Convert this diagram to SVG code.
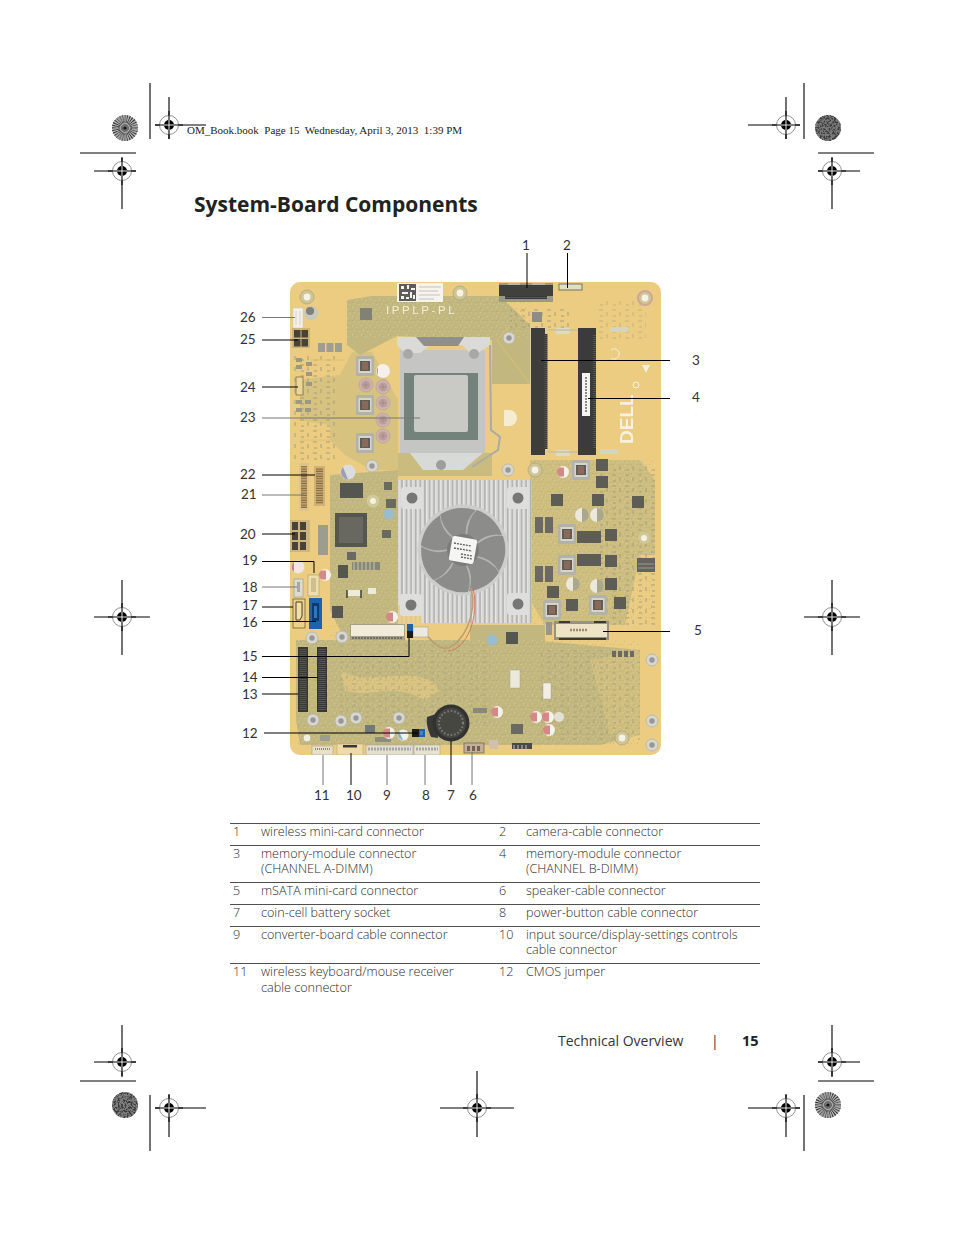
<svg xmlns="http://www.w3.org/2000/svg" width="954" height="1235" viewBox="0 0 954 1235">
<style>
.t{font-family:"Open Sans","Lato",sans-serif;font-size:12.6px;font-weight:300;fill:#2c2c2c}
.n{font-family:"Lato","Open Sans",sans-serif;font-size:13.5px;font-weight:400;fill:#333}
.c{stroke:#000;stroke-width:1;fill:none}
.c2{stroke:#777;stroke-width:1;fill:none}
.m{stroke:#000;stroke-width:1.1}
.ol{fill:#b9ad6c}
.dk{fill:#56564e}
.ch{fill:#3e3e38}
.gr{fill:#8f8f80}
</style>
<defs>
<g id="cross"><circle r="9.5" fill="#fff" stroke="#777" stroke-width=".8"/><path d="M-14 0H14M0-14V14" stroke="#000" stroke-width="1.100"/><circle r="5" fill="#000"/><path d="M-5 0H5M0-5V5" stroke="#fff" stroke-width=".9"/></g>
<g id="burst"><circle r="13" fill="#a8a8a8"/><circle r="6.5" fill="none" stroke="#333" stroke-width="13" stroke-dasharray=".7 .7"/><circle r="10" fill="none" stroke="#ddd" stroke-width="6" stroke-dasharray=".6 1.4" opacity=".7"/><circle r="4.5" fill="none" stroke="#ddd" stroke-width="1" opacity=".6"/><circle r="1.5" fill="#111"/></g>
<filter id="noise" x="0" y="0" width="1" height="1" color-interpolation-filters="sRGB"><feTurbulence type="fractalNoise" baseFrequency=".55" numOctaves="2" seed="4"/><feColorMatrix values="0 0 0 0 .22 0 0 0 0 .22 0 0 0 0 .22 5 0 0 0 -2.2"/><feComposite in2="SourceGraphic" operator="in" result="d"/><feMerge><feMergeNode in="SourceGraphic"/><feMergeNode in="d"/></feMerge></filter>
<filter id="soft" x="0" y="0" width="1" height="1"><feGaussianBlur stdDeviation=".45"/></filter>
<pattern id="fins" width="4.6" height="10" patternUnits="userSpaceOnUse"><rect width="4.6" height="10" fill="#d4d4d2"/><rect x="1" width="1.5" height="10" fill="#a2a2a0"/><rect x="3.1" width=".6" height="10" fill="#efefee"/></pattern>
<pattern id="speck" width="9" height="9" patternUnits="userSpaceOnUse"><path d="M1 1h1.500v1.500H1zM5 3h1.500v1H5zM3 6h1v1.500H3zM7 7h1.500v1H7z" fill="#d8cf9a" opacity=".75"/><path d="M3 2h1v1H3zM7 5h1v1H7zM1 5h1v1H1z" fill="#8f8648" opacity=".6"/></pattern>
<pattern id="smt" width="13" height="11" patternUnits="userSpaceOnUse"><path d="M1 1h4v2H1zM8 4h2v4H8zM2 7h3v2H2z" fill="#8e8a68" opacity=".7"/></pattern>
<pattern id="pins" width="1.800" height="2.400" patternUnits="userSpaceOnUse"><rect width="1.800" height="2.400" fill="#c9a662"/><rect y=".5" width="1.800" height="1.200" fill="#6d4f22"/></pattern>
<pattern id="dpins" width="3" height="2" patternUnits="userSpaceOnUse"><rect width="3" height="2" fill="#1c1c1c"/><rect y="1" width="3" height=".6" fill="#555"/></pattern>
<g id="hole"><circle r="7" fill="#c9bd88" stroke="#a49a66" stroke-width=".8"/><circle r="3.400" fill="#f4f1e4"/></g>
<g id="ghole"><circle r="6" fill="#d2d2ca" stroke="#a8a89c" stroke-width=".8"/><circle r="2.700" fill="#888"/></g>
<g id="cap"><circle r="7" fill="#cca6a2" stroke="#a79a8a" stroke-width=".8"/><circle r="4.600" fill="#b3918e"/><path d="M-3 0H3M0-3V3" stroke="#8d7674" stroke-width=".7"/></g>
<g id="rcap"><circle r="6" fill="#f2f0ea"/><path d="M-4-4.500A6 6 0 0 0-4 4.500L1 4.500V-4.500z" fill="#c0504a" opacity=".75"/></g>
<g id="wcap"><circle r="7" fill="#e9e6d8"/><path d="M0-7A7 7 0 0 1 0 7z" fill="#9f9a78"/></g>
<g id="ind"><rect x="-9" y="-10" width="18" height="20" rx="1.500" fill="#a7a79a"/><rect x="-6.500" y="-7" width="13" height="14" fill="#cfcfc4"/><rect x="-5" y="-5" width="10" height="10" fill="#47433d"/><path d="M-3-3H3M-3-1H3M-3 1H3M-3 3H3" stroke="#b5684a" stroke-width=".9"/></g>
<g id="sq"><rect x="-6" y="-6" width="12" height="12" fill="#46463f"/></g>
<path id="blade" d="M14-6Q28-16 40-14A42 42 0 0 1 36 21Q28 8 14 6z" fill="#7b7b79"/>
</defs>

<g id="page-marks">
<path class="m" d="M150 83V139M155 125H206M169 97V139M80 153H136M94 171H136M122 158V209M804 83V139M748 125H800M786 97V139M818 153H874M818 171H860M832 158V209M94 617H150M122 580V655M804 617H860M832 580V655M94 1062H136M122 1025V1077M80 1081H136M150 1095V1151M155 1108H206M169 1095V1137M440 1108H514M477 1071V1137M748 1108H800M786 1095V1137M804 1095V1151M818 1081H874M818 1062H860M832 1025V1077" fill="none"/>
<use href="#burst" x="125" y="128"/>
<use href="#burst" x="828" y="1105"/>
<circle cx="828" cy="128" r="13" fill="#7a7a7a" filter="url(#noise)"/>
<circle cx="125" cy="1105" r="13" fill="#808080" filter="url(#noise)"/>
<use href="#cross" x="169" y="125"/><use href="#cross" x="122" y="171"/><use href="#cross" x="786" y="125"/><use href="#cross" x="832" y="171"/><use href="#cross" x="122" y="617"/><use href="#cross" x="832" y="617"/><use href="#cross" x="122" y="1062"/><use href="#cross" x="169" y="1108"/><use href="#cross" x="477" y="1108"/><use href="#cross" x="786" y="1108"/><use href="#cross" x="832" y="1062"/>
<text x="187" y="134" xml:space="preserve" style="white-space:pre" font-family="Liberation Serif,serif" font-size="11" fill="#222">OM_Book.book  Page 15  Wednesday, April 3, 2013  1:39 PM</text>
</g>

<text id="title" x="194" y="212" font-family="Open Sans,Lato,sans-serif" font-weight="700" font-size="21" fill="#222">System-Board Components</text>

<g id="board" filter="url(#soft)">
<rect x="290" y="282" width="371" height="473" rx="10" fill="#e8c56f"/>
<path class="ol" d="M347 300L372 296H500L530 325V384H492V340L397 336L360 355L347 345z"/>
<path class="ol" d="M352 352H372L398 400V470H372L345 455L330 440V425L300 420V380L340 375z" opacity=".5"/>
<path class="ol" d="M398 453H492V476H398z" opacity=".8"/>
<path class="ol" d="M330 475L398 470V640L345 640L330 610z"/>
<path class="ol" d="M296 640H530L640 650V735L600 745H300L296 720z"/>
<path class="ol" d="M470 625H545V655H470z"/>
<path class="ol" d="M530 460H640L655 480V555H640L625 625H545L530 600z" opacity=".72"/>
<path fill="#e8c56f" d="M340 670C370 690 420 660 440 690L425 700C390 680 370 700 345 690z" opacity=".6"/>
<path fill="#e8c56f" d="M590 660L640 650V740L610 735z" opacity=".35"/>
<rect x="296" y="640" width="344" height="105" fill="url(#speck)" opacity=".6"/>
<rect x="530" y="460" width="125" height="165" fill="url(#speck)" opacity=".6"/>
<rect x="347" y="298" width="183" height="40" fill="url(#speck)" opacity=".6"/>
<rect x="330" y="475" width="68" height="165" fill="url(#speck)" opacity=".5"/>
<rect x="293" y="355" width="45" height="105" fill="url(#smt)" opacity=".6"/>
<rect x="600" y="465" width="55" height="160" fill="url(#smt)" opacity=".6"/>
<rect x="540" y="650" width="100" height="90" fill="url(#smt)" opacity=".5"/>
<rect x="340" y="645" width="150" height="80" fill="url(#smt)" opacity=".45"/>
<rect x="596" y="300" width="50" height="40" fill="url(#smt)" opacity=".35"/>
<rect x="510" y="306" width="60" height="22" fill="url(#smt)" opacity=".6"/>
<path fill="none" stroke="#d8b85f" stroke-width="1" d="M300 440H345M300 400H340M310 360H345M497 340L530 384M510 325L497 340"/>
<use href="#hole" x="307" y="297"/><use href="#hole" x="460" y="293"/><use href="#hole" x="645" y="298"/>
<circle cx="645" cy="298" r="7" fill="none" stroke="#c89a88" stroke-width="2"/>
<g id="qr"><rect x="397" y="283" width="46" height="19" fill="#f5f3e8"/><rect x="399" y="284" width="17" height="17" fill="#444"/><path d="M401 286h3v3h-3zM407 285h2v4h-2zM411 288h4v2h-4zM402 292h6v2h-6zM410 292h2v6h-2zM401 296h3v3h-3zM406 297h3v2h-3zM413 295h2v4h-2z" fill="#f5f3e8"/><path d="M419 287H441M419 291H438M419 295H440M419 299H434" stroke="#aaa" stroke-width=".8"/></g>
<text x="386" y="314" font-family="Liberation Sans,sans-serif" font-size="11.500" letter-spacing="2.600" fill="#f1eccf">IPPLP-PL</text>
<g id="c26"><rect x="293" y="308" width="10" height="20" fill="#f1efe8" stroke="#c8c2a8" stroke-width=".6"/><path d="M296 311V325M300 311V325" stroke="#cfcbb8"/></g>
<circle cx="311" cy="313" r="7" fill="#bfc0b5"/><circle cx="310" cy="311" r="4" fill="#6d6e63"/>
<g id="c25"><rect x="292" y="328" width="18" height="20" fill="#c6a864"/><rect x="294" y="330" width="6.500" height="7.500" fill="#2e281c"/><rect x="301.500" y="330" width="6.500" height="7.500" fill="#2e281c"/><rect x="294" y="339" width="6.500" height="7.500" fill="#2e281c"/><rect x="301.500" y="339" width="6.500" height="7.500" fill="#2e281c"/></g>
<rect x="318" y="343" width="7" height="9" class="gr"/><rect x="326.500" y="343" width="7" height="9" class="gr"/><rect x="335" y="343" width="7" height="9" class="gr"/>
<g id="c24"><rect x="296" y="377" width="7" height="18" fill="#eacf8a" stroke="#6a5a30" stroke-width=".8"/></g>
<path d="M296 358h6v4h-6zM296 365h6v4h-6zM306 362h6v4h-6zM306 372h6v4h-6zM306 382h6v4h-6zM296 400h6v4h-6zM305 400h6v4h-6zM296 408h6v4h-6zM305 408h6v4h-6z" fill="#8a8a72"/>
<use href="#ind" x="365" y="366"/><use href="#ind" x="365" y="405"/><use href="#ind" x="365" y="443"/>
<circle cx="383" cy="371" r="7" fill="#f3eeea"/><path d="M378 367A7 7 0 0 0 378 375z" fill="#c9888a"/>
<use href="#cap" x="383" y="387"/><use href="#cap" x="383" y="403"/><use href="#cap" x="383" y="420"/><use href="#cap" x="383" y="436"/><use href="#cap" x="366" y="385"/>
<circle cx="348" cy="472" r="7.500" fill="#d7d6d8"/><path d="M343 467A7.500 7.500 0 0 0 348 479.500z" fill="#8d8fb0"/>
<circle cx="373" cy="501" r="6.500" fill="#ccc18a"/><circle cx="373" cy="501" r="3" fill="#f3f0e2"/>
<circle cx="389" cy="514" r="5.500" fill="#8ab4c8"/>
<rect x="340" y="483" width="23" height="15" class="ch"/><rect x="384" y="482" width="8" height="8" class="dk"/><rect x="386" y="499" width="10" height="9" class="dk"/>
<use href="#ghole" x="372" y="466"/><use href="#ghole" x="509" y="338"/><use href="#ghole" x="508" y="470"/>
<rect x="360" y="308" width="12" height="12" fill="#6f6f60"/><rect x="532" y="312" width="10" height="10" fill="#7d7d70"/>
<g id="socket">
<rect x="400" y="350" width="85" height="103" fill="#bdbebc"/>
<path d="M397 337H490V345L478 353H470L462 345H430L420 353H405L397 345z" fill="#d5d6d3"/>
<path d="M416 337H464L458 346H424z" fill="#7f807c"/>
<circle cx="408" cy="354" r="5" fill="#9c9d99"/><circle cx="474" cy="354" r="5" fill="#9c9d99"/>
<path d="M404 373H478V440H404z" fill="#5f7169"/>
<rect x="414" y="375" width="54" height="57" rx="2" fill="#c1c1bd"/>
<path d="M410 453H483L463 470H423z" fill="#d3d5d3"/>
<circle cx="441" cy="465" r="5" fill="#8f908c"/>
<path d="M490 345L491 430L500 437L498 450L472 467" stroke="#9d9f9b" stroke-width="2" fill="none"/>
</g>
<path d="M509 410a5 5 0 0 1 0 16h-5v-16z" fill="#f3ebcc"/>
<g id="c1"><rect x="499" y="283" width="54" height="19" fill="#8d8a70"/><rect x="499" y="285" width="54" height="11" fill="#23231f"/><rect x="505" y="296" width="42" height="3" fill="url(#dpins)"/><path d="M508 284H520M532 284H545" stroke="#ccc" stroke-width="1"/></g>
<g id="c2"><rect x="559" y="284" width="23" height="6" fill="#e1d8b8" stroke="#444" stroke-width=".8"/></g>
<g id="dimmA"><rect x="530" y="328" width="17" height="127" fill="#d6c98e"/><rect x="531" y="328" width="14" height="127" fill="#1f1f1e"/><rect x="544.500" y="334" width="3" height="115" fill="url(#dpins)"/></g>
<g id="dimmB"><rect x="578" y="328" width="18" height="127" fill="#1e1e1d"/><rect x="593" y="334" width="3" height="115" fill="url(#dpins)"/><rect x="582" y="373" width="8" height="43" fill="#f3f3ee"/><path d="M586 377V412" stroke="#444" stroke-width="1.400" stroke-dasharray="2 1"/></g>
<rect x="556" y="328" width="14" height="6" fill="#d7d5c4"/><rect x="556" y="450" width="14" height="6" fill="#d7d5c4"/><rect x="610" y="327" width="18" height="5" fill="#cfcdbb"/><rect x="600" y="449" width="18" height="5" fill="#cfcdbb"/>
<path d="M548 330H578M548 452H578" stroke="#bfb88f" stroke-width="1.500"/>
<text transform="translate(633 444) rotate(-90)" font-family="Liberation Sans,sans-serif" font-weight="700" font-size="19" fill="#f5f0dc">DELL</text>
<path d="M611 350A5 5 0 1 1 611 358" stroke="#f5f0dc" fill="none"/>
<circle cx="636" cy="385" r="3" stroke="#f5f0dc" fill="none"/>
<path d="M646 375l4-8h-8z" fill="#f0edd8" transform="translate(0 -2)"/>
<g id="heatsink"><rect x="398" y="480" width="134" height="143" fill="url(#fins)"/><rect x="398" y="605" width="23" height="18" fill="#e8c56f" opacity=".8"/><rect x="401" y="487" width="22" height="22" rx="3" fill="#dadad7"/><rect x="507" y="487" width="22" height="22" rx="3" fill="#dadad7"/><rect x="400" y="594" width="22" height="22" rx="3" fill="#dadad7"/><rect x="507" y="593" width="22" height="22" rx="3" fill="#dadad7"/><circle cx="412" cy="498" r="5.500" fill="#63635f"/><circle cx="518" cy="498" r="5.500" fill="#63635f"/><circle cx="411" cy="605" r="5.500" fill="#63635f"/><circle cx="518" cy="604" r="5.500" fill="#63635f"/></g>
<g id="fan" transform="translate(463 550)"><circle r="45.500" fill="#c6c6c4"/><circle r="42" fill="#a9a9a7"/>
<use href="#blade"/><use href="#blade" transform="rotate(51.4)"/><use href="#blade" transform="rotate(102.800)"/><use href="#blade" transform="rotate(154.200)"/><use href="#blade" transform="rotate(205.700)"/><use href="#blade" transform="rotate(257.100)"/><use href="#blade" transform="rotate(308.500)"/>
<circle r="16" fill="#686866"/>
<rect x="-12.500" y="-12.500" width="25" height="25" rx="2.500" fill="#f4f4f1" transform="rotate(10)"/><path d="M-9-7L8-4M-9-2L9 1M-2 4L9 6M-2 7L9 9" stroke="#444" stroke-width="1.300" stroke-dasharray="2 1"/></g>
<path d="M471 588C478 615 462 645 447 648C438 650 432 640 424 633" fill="none" stroke="#b49058" stroke-width="1.600"/><path d="M473 588C480 618 466 650 448 651" fill="none" stroke="#c5604a" stroke-width=".9"/>
<use href="#ind" x="581" y="470"/><use href="#rcap" x="563" y="472"/><use href="#hole" x="535" y="470"/>
<use href="#sq" x="602" y="465"/><use href="#sq" x="602" y="482"/><use href="#sq" x="557" y="500"/><use href="#sq" x="598" y="500"/><use href="#sq" x="638" y="502"/>
<path d="M535 517h8v16h-8zM545 517h8v16h-8zM535 566h8v16h-8zM545 566h8v16h-8z" fill="#55554c"/>
<use href="#wcap" x="582" y="515"/><use href="#wcap" x="597" y="515"/><use href="#wcap" x="573" y="584"/><use href="#wcap" x="597" y="586"/>
<use href="#ind" x="567" y="534"/><use href="#ind" x="567" y="565"/><use href="#ind" x="552" y="610"/><use href="#ind" x="598" y="605"/>
<use href="#sq" x="583" y="537"/><use href="#sq" x="595" y="537"/><use href="#sq" x="583" y="560"/><use href="#sq" x="595" y="560"/><use href="#sq" x="611" y="535"/><use href="#sq" x="611" y="561"/><use href="#sq" x="611" y="584"/><use href="#sq" x="553" y="592"/><use href="#sq" x="572" y="605"/><use href="#sq" x="620" y="603"/>
<circle cx="644" cy="538" r="6" fill="#c9c088"/><circle cx="644" cy="538" r="3" fill="#f3f0e2"/><rect x="637" y="558" width="18" height="14" fill="#4d4d47"/><path d="M638 564H654M638 568H654" stroke="#8d8d80"/>
<g id="c5"><rect x="554" y="621" width="55" height="19" fill="#8a8468"/><rect x="556" y="624" width="51" height="13" fill="#ebe0bf"/><path d="M559 622H570M594 622H606M559 639H606" stroke="#1c1c1c" stroke-width="2"/><path d="M570 630H588" stroke="#8a7d5c" stroke-width="2.500" stroke-dasharray="2 1"/></g>
<rect x="546" y="622" width="6" height="13" fill="#888878"/>
<path d="M612 651h4v6h-4zM618 651h4v6h-4zM624 651h4v6h-4zM630 651h4v6h-4z" fill="#55554a"/>
<g id="c22"><rect x="314" y="466" width="11" height="40" fill="#c9a662"/><rect x="316" y="468" width="7" height="36" fill="url(#pins)"/></g>
<g id="c21"><rect x="299" y="463" width="10" height="48" fill="#d9bc7a"/><rect x="301" y="466" width="6" height="42" fill="url(#pins)"/></g>
<g id="c20"><rect x="290" y="520" width="20" height="32" fill="#c7aa66"/><path d="M292 522h6v8h-6zM300 522h6v8h-6zM292 532h6v8h-6zM300 532h6v8h-6zM292 542h6v8h-6zM300 542h6v8h-6z" fill="#2e281c"/></g>
<rect x="318" y="525" width="10" height="30" fill="#8f8f7e"/>
<rect x="335" y="513" width="32" height="34" class="ch"/><rect x="339" y="517" width="24" height="26" fill="#51514a"/>
<rect x="382" y="530" width="9" height="8" class="dk"/><rect x="347" y="552" width="9" height="8" class="dk"/><rect x="338" y="565" width="10" height="13" class="ch"/>
<path d="M352 562H380V570H352z" fill="#767664"/><path d="M354 562V570M358 562V570M362 562V570M366 562V570M370 562V570M374 562V570" stroke="#d8d0a8" stroke-width=".8"/>
<path d="M347 590h14v6h-14zM368 588h8v6h-8z" fill="#e9e7d6"/><path d="M347 590v8M361 590v8" stroke="#222" stroke-width="1.500"/>
<circle cx="298" cy="567" r="6.500" fill="#efe3dd"/><path d="M294 562A6.500 6.500 0 0 0 294 572z" fill="#c06c70"/><use href="#rcap" x="325" y="575"/>
<g id="c19"><rect x="308" y="575" width="11" height="21" fill="#ebd9a4" stroke="#9a8a58" stroke-width=".6"/><rect x="311" y="578" width="5" height="14" fill="#c9b57c"/></g>
<g id="c18"><rect x="294" y="579" width="9" height="18" fill="#d8d6c4" stroke="#8d8a70" stroke-width=".6"/><rect x="297" y="582" width="3" height="10" fill="#999"/></g>
<g id="c17"><rect x="293" y="599" width="12" height="29" fill="#e9cb74" stroke="#5a4a1a" stroke-width=".8"/><path d="M296 602h6v14l-2 4h-4z" fill="#f0dc9c" stroke="#2a2410"/></g>
<rect x="332" y="606" width="11" height="12" class="ch"/>
<use href="#ghole" x="312" y="638"/><use href="#ghole" x="342" y="637"/>
<g id="c15mini"><rect x="350" y="624" width="55" height="16" fill="#9a9478"/><rect x="351" y="625" width="53" height="11" fill="#efe9d4"/><path d="M352 638H403" stroke="#444" stroke-width="1.500" stroke-dasharray="2 1"/></g>
<use href="#rcap" x="392" y="617"/>
<rect x="413" y="627" width="15" height="10" fill="#e8e6dc" stroke="#8d8a70" stroke-width=".5"/>
<g id="c13"><rect x="298" y="647" width="10" height="65" fill="#1c1c1b"/><rect x="299.500" y="649" width="7" height="61" fill="url(#dpins)"/></g>
<g id="c14"><rect x="317" y="647" width="10" height="65" fill="#1c1c1b"/><rect x="318.500" y="649" width="7" height="61" fill="url(#dpins)"/></g>
<use href="#ghole" x="313" y="720"/><use href="#ghole" x="341" y="721"/><use href="#ghole" x="356" y="718"/><use href="#ghole" x="399" y="718"/><circle cx="307" cy="738" r="4" fill="#efece0" stroke="#b8ad78"/>
<rect x="365" y="725" width="10" height="8" fill="#5e6668"/><rect x="320" y="735" width="10" height="6" fill="#8f8f7e"/><rect x="375" y="737" width="16" height="5" fill="#7d7d6c"/>
<use href="#rcap" x="389" y="733"/><circle cx="403" cy="735" r="5.500" fill="#eef1f0"/><path d="M399 731A5.500 5.500 0 0 0 403 740z" fill="#7fa9c4"/>
<g id="battery"><path d="M427 717L436 714L438 738L431 737C428 730 426 724 427 717z" fill="#1c1c1a"/><circle cx="451" cy="723" r="18.500" fill="#151513"/><circle cx="451" cy="723" r="15" fill="#2b2b28"/><circle cx="451" cy="723" r="12" fill="none" stroke="#6a6a64" stroke-width="2" stroke-dasharray="1.500 2"/></g>
<g id="c11"><rect x="312" y="746" width="21" height="9" fill="#e5dcc0" stroke="#9a9272" stroke-width=".6"/><path d="M315 749H330" stroke="#777" stroke-width="2" stroke-dasharray="1 1"/></g>
<g id="c10"><rect x="337" y="744" width="26" height="11" fill="#eed59a" stroke="#b99a5a" stroke-width=".6"/><rect x="343" y="745" width="14" height="2.500" fill="#1c1c1a"/></g>
<g id="c9"><rect x="366" y="745" width="47" height="10" fill="#dedbc8" stroke="#999680" stroke-width=".6"/><path d="M368 749H411" stroke="#999" stroke-width="3" stroke-dasharray="2 1"/></g>
<g id="c8"><rect x="414" y="745" width="26" height="10" fill="#e3dfca" stroke="#999680" stroke-width=".6"/><path d="M416 749H438" stroke="#999" stroke-width="3" stroke-dasharray="2 1"/></g>
<g id="c6"><rect x="464" y="743" width="20" height="10" fill="#b8a48a" stroke="#62503c" stroke-width=".8"/><path d="M467 746h3v5h-3zM472 746h3v5h-3zM477 746h3v5h-3z" fill="#5d4a3a"/></g>
<rect x="489" y="740" width="9" height="9" fill="#c9b8a0"/><rect x="512" y="743" width="20" height="6" fill="#2e2e2a"/><path d="M514 745V749M518 745V749M522 745V749M526 745V749" stroke="#ddd" stroke-width=".8"/>
<use href="#rcap" x="497" y="712"/><use href="#rcap" x="536" y="717"/><use href="#rcap" x="548" y="717"/><use href="#rcap" x="549" y="730"/><circle cx="559" cy="717" r="5" fill="#dfddd0"/>
<rect x="506" y="632" width="12" height="12" class="ch"/><circle cx="492" cy="640" r="5.500" fill="#8ab4c8"/>
<rect x="510" y="670" width="10" height="18" fill="#e9e6d4" stroke="#888" stroke-width=".4"/><rect x="543" y="683" width="8" height="16" fill="#efece0" stroke="#888" stroke-width=".4"/>
<rect x="511" y="724" width="12" height="10" class="dk"/><rect x="473" y="708" width="14" height="5" fill="#777768"/>
<use href="#ghole" x="652" y="660"/><use href="#ghole" x="652" y="721"/><use href="#hole" x="622" y="738"/><use href="#ghole" x="652" y="745"/>
<rect x="290" y="282" width="371" height="473" rx="10" fill="#fff" opacity=".13"/>
<g id="c16"><rect x="309" y="598" width="13" height="31" fill="#1e63ad"/><rect x="312" y="603" width="7" height="18" fill="#103a70"/><rect x="314" y="606" width="3" height="12" fill="#2a78c4"/></g>
<g id="c15"><rect x="407" y="624" width="6" height="14" fill="#1f62ad"/><rect x="407" y="631" width="6" height="7" fill="#1a1a18"/></g>
<g id="c12"><rect x="412" y="729" width="13" height="8" fill="#1f62ad"/><rect x="412" y="729" width="7" height="8" fill="#1d1d1b"/><rect x="420" y="731" width="3" height="4" fill="#3f85c8"/></g>
</g>

<g id="connectors">
<path class="c" d="M527 253V288M567.500 253V288M541 360.500H670M588 398.500H670M603 631.500H670"/>
<path class="c" d="M262 340H298M262 387H298M262 475H315M262 534H295M262 561.500H314V573M262 607H293M262 621.500H316M262 656.500H409V638M262 677.500H318M262 694H298M264 733H418"/>
<path class="c2" d="M262 317.500H295M262 418H420M262 495H304M262 587H297"/>
<path class="c" d="M351 753V785M451 741V785"/>
<path class="c2" d="M323 755V785M387 755V785M425 755V785M472 752V785"/>
</g>

<g id="callouts">
<text class="n" x="522" y="250">1</text><text class="n" x="563" y="250">2</text><text class="n" x="692" y="365">3</text><text class="n" x="692" y="402">4</text><text class="n" x="694" y="635">5</text>
<text class="n" x="240" y="322">26</text><text class="n" x="240" y="344">25</text><text class="n" x="240" y="392">24</text><text class="n" x="240" y="422">23</text><text class="n" x="240" y="479">22</text><text class="n" x="241" y="499">21</text><text class="n" x="240" y="539">20</text><text class="n" x="242" y="565">19</text><text class="n" x="242" y="592">18</text><text class="n" x="242" y="610">17</text><text class="n" x="242" y="626.500">16</text><text class="n" x="242" y="661">15</text><text class="n" x="242" y="682">14</text><text class="n" x="242" y="699">13</text><text class="n" x="242" y="738">12</text>
<text class="n" x="314" y="800">11</text><text class="n" x="346" y="800">10</text><text class="n" x="383" y="800">9</text><text class="n" x="422" y="800">8</text><text class="n" x="447" y="800">7</text><text class="n" x="469" y="800">6</text>
</g>

<g id="table">
<path d="M230 823.500H760M230 845.500H760M230 882.500H760M230 904.500H760M230 926.500H760M230 963.500H760" stroke="#222" stroke-width=".8"/>
<text class="t" x="233" y="836">1</text><text class="t" x="261" y="836">wireless mini-card connector</text><text class="t" x="499" y="836">2</text><text class="t" x="526" y="836">camera-cable connector</text>
<text class="t" x="233" y="858">3</text><text class="t" x="261" y="858">memory-module connector</text><text class="t" x="261" y="873">(CHANNEL A-DIMM)</text><text class="t" x="499" y="858">4</text><text class="t" x="526" y="858">memory-module connector</text><text class="t" x="526" y="873">(CHANNEL B-DIMM)</text>
<text class="t" x="233" y="895">5</text><text class="t" x="261" y="895">mSATA mini-card connector</text><text class="t" x="499" y="895">6</text><text class="t" x="526" y="895">speaker-cable connector</text>
<text class="t" x="233" y="917">7</text><text class="t" x="261" y="917">coin-cell battery socket</text><text class="t" x="499" y="917">8</text><text class="t" x="526" y="917">power-button cable connector</text>
<text class="t" x="233" y="939">9</text><text class="t" x="261" y="939">converter-board cable connector</text><text class="t" x="499" y="939">10</text><text class="t" x="526" y="939">input source/display-settings controls</text><text class="t" x="526" y="954">cable connector</text>
<text class="t" x="233" y="976">11</text><text class="t" x="261" y="976">wireless keyboard/mouse receiver</text><text class="t" x="261" y="992">cable connector</text><text class="t" x="499" y="976">12</text><text class="t" x="526" y="976">CMOS jumper</text>
</g>

<g id="footer">
<text x="558" y="1046" font-family="Open Sans,Lato,sans-serif" font-size="14" fill="#333">Technical Overview</text>
<text x="711" y="1046" font-family="Open Sans,Lato,sans-serif" font-size="14" fill="#333">|</text>
<text x="742" y="1046" font-family="Open Sans,Lato,sans-serif" font-weight="700" font-size="14.500" fill="#222">15</text>
</g>
</svg>
